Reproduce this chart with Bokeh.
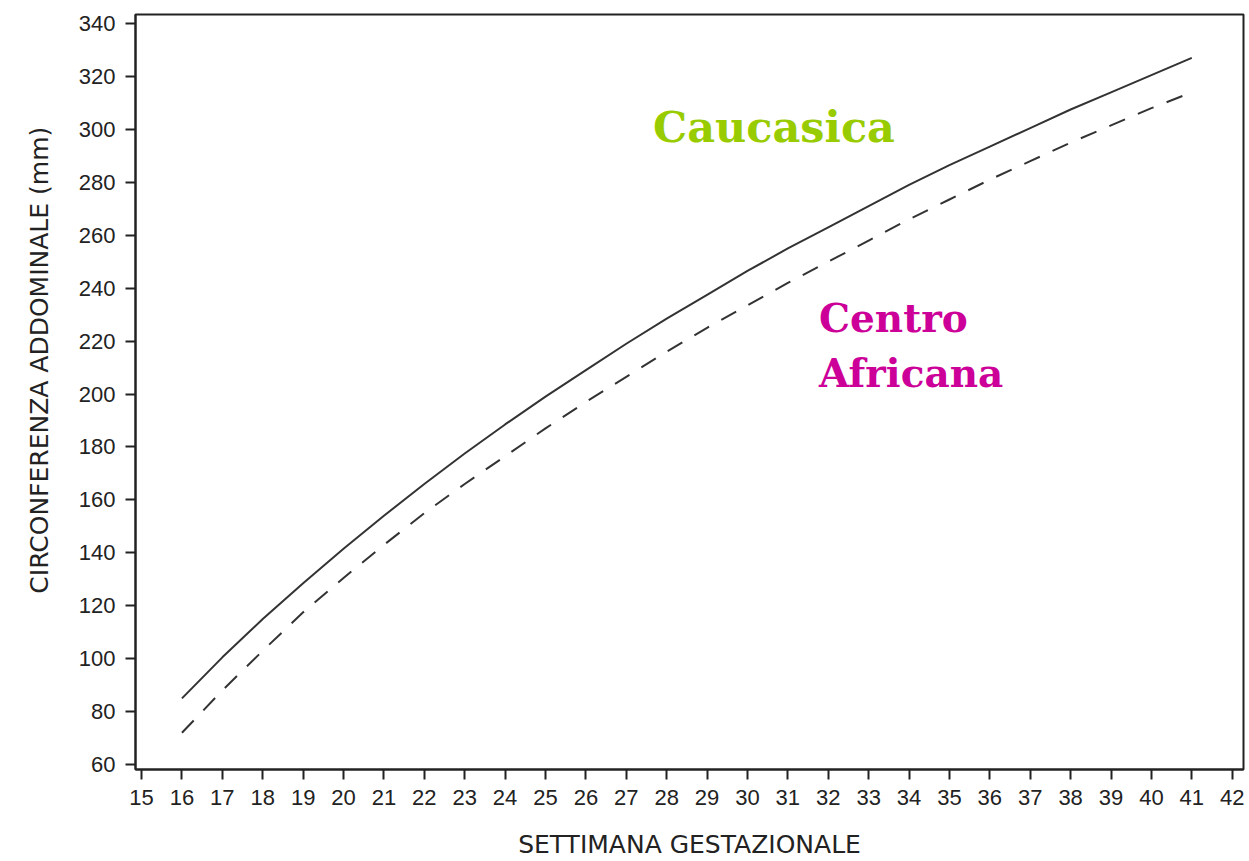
import math
from bokeh.plotting import figure
from bokeh.models import Range1d, FixedTicker, Label, Title
from bokeh.embed import file_html
from bokeh.resources import INLINE

# ---- data ----
weeks = [16, 17, 18, 19, 20, 21, 22, 23, 24, 25, 26, 27, 28,
         29, 30, 31, 32, 33, 34, 35, 36, 37, 38, 39, 40, 41]
caucasica = [85, 100.5, 115, 128.5, 141.5, 154, 166, 177.5, 188.5, 199, 209, 219, 228.5,
             237.5, 246.5, 255, 263, 271, 279, 286.5, 293.5, 300.5, 307.5, 314, 320.5, 327]
africana = [72, 88, 103, 117.5, 130.5, 143, 155, 166, 176.5, 187, 197, 206.5, 216,
            225, 233.5, 242, 250, 258, 266, 273.5, 281, 288, 295, 301.5, 308, 314]
x_ticks = list(range(15, 43))
y_ticks = list(range(60, 341, 20))
x_title = "SETTIMANA GESTAZIONALE"
y_title = "CIRCONFERENZA ADDOMINALE (mm)"
label_cauc = "Caucasica"
label_afr = ["Centro", "Africana"]

INK = "#222222"

p = figure(width=1249, height=861, output_backend="svg", toolbar_location=None,
           x_range=Range1d(14.85, 42.28), y_range=Range1d(58.12, 343.4),
           min_border_left=135, min_border_right=6, min_border_top=14,
           min_border_bottom=89)
p.grid.visible = False
p.background_fill_color = "white"
p.border_fill_color = "white"
p.outline_line_color = INK
p.outline_line_width = 2

p.line(weeks, caucasica, line_color="#333333", line_width=2)
p.line(weeks, africana, line_color="#333333", line_width=2, line_dash="17 14")

for ax in (p.xaxis[0], p.yaxis[0]):
    ax.axis_line_color = INK
    ax.axis_line_width = 2
    ax.major_tick_line_color = INK
    ax.major_tick_line_width = 2
    ax.major_tick_out = 10
    ax.major_tick_in = 0
    ax.minor_tick_out = 0
    ax.minor_tick_in = 0
    ax.major_label_text_font = "Liberation Sans"
    ax.major_label_text_font_size = "22px"
    ax.major_label_text_color = INK
    ax.major_label_standoff = 10

p.xaxis.ticker = FixedTicker(ticks=x_ticks)
p.yaxis.ticker = FixedTicker(ticks=y_ticks)

p.xaxis.axis_label = x_title
p.xaxis.axis_label_text_font = "DejaVu Sans"
p.xaxis.axis_label_text_font_size = "25px"
p.xaxis.axis_label_text_font_style = "normal"
p.xaxis.axis_label_text_color = INK
p.xaxis.axis_label_standoff = 22

# leading no-break spaces lift the centred rotated title like the reference
p.add_layout(Title(text="\u00a0" * 8 + y_title, align="center", standoff=44,
                   text_font="DejaVu Sans", text_font_size="25px",
                   text_font_style="normal", text_color=INK), "left")

p.add_layout(Label(x=27.66, y=300.8, text=label_cauc,
                   text_align="left", text_baseline="alphabetic",
                   text_font="DejaVu Serif", text_font_style="bold",
                   text_font_size="43px", text_color="#99CC00"))
p.add_layout(Label(x=31.77, y=228.6, text=label_afr[0],
                   text_align="left", text_baseline="alphabetic",
                   text_font="DejaVu Serif", text_font_style="bold",
                   text_font_size="39px", text_color="#CC0099"))
p.add_layout(Label(x=31.77, y=207.9, text=label_afr[1],
                   text_align="left", text_baseline="alphabetic",
                   text_font="DejaVu Serif", text_font_style="bold",
                   text_font_size="39px", text_color="#CC0099"))

open("out.html", "w").write(file_html(p, INLINE))
